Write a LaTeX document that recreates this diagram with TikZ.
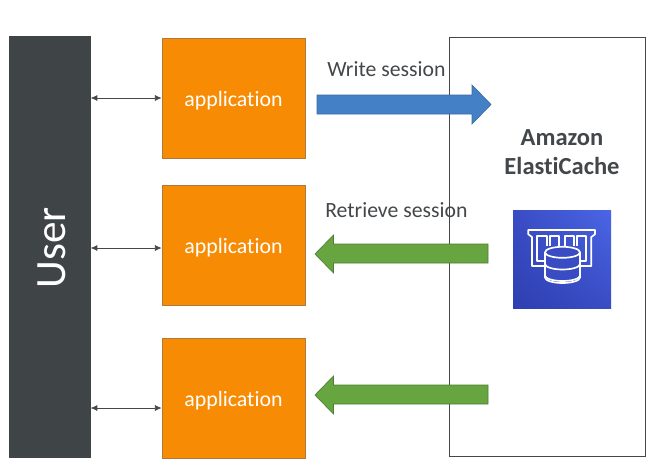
\documentclass[tikz,border=0pt]{standalone}
\usepackage{fontspec}
\setmainfont[Ligatures=NoCommon]{Carlito}
\usetikzlibrary{arrows.meta,shadings}
\definecolor{userdark}{HTML}{3F4447}
\definecolor{apporange}{HTML}{F78B04}
\definecolor{appedge}{HTML}{B0783A}
\definecolor{inkdark}{HTML}{444749}
\definecolor{blueflow}{HTML}{4480C6}
\definecolor{blueedge}{HTML}{3A6EA5}
\definecolor{greenflow}{HTML}{67A540}
\definecolor{greenedge}{HTML}{4F7F32}
\definecolor{iconlow}{HTML}{2E3FB0}
\definecolor{iconmid}{HTML}{3A4CC4}
\definecolor{iconhigh}{HTML}{4A66E6}
\newcommand{\apptext}{\smash{\raisebox{-6pt}{application}}}
\tikzset{
  x=0.75pt,y=-0.75pt,
  appbox/.style={draw=appedge,line width=0.6pt,fill=apporange,text=white,minimum width=107.2pt,minimum height=90pt,inner sep=0pt,font=\fontsize{16.4}{20}\selectfont},
  userbox/.style={draw=userdark,fill=userdark,text=white,minimum width=61pt,minimum height=315.75pt,inner sep=0pt},
  cachebox/.style={draw=inkdark,line width=0.6pt,fill=white,minimum width=147pt,minimum height=314.25pt,inner sep=0pt},
  dbl/.style={draw=inkdark,line width=0.5pt,{Latex[length=5pt,width=4.5pt]}-{Latex[length=5pt,width=4.5pt]}},
  flowlabel/.style={text=inkdark,inner sep=0pt,font=\fontsize{16.3}{20}\selectfont},
  blockblue/.style={draw=blueedge,line width=0.5pt,fill=blueflow},
  blockgreen/.style={draw=greenedge,line width=0.5pt,fill=greenflow},
  iconline/.style={draw=white,line width=1.25pt,line join=round},
}
\begin{document}
\begin{tikzpicture}
\useasboundingbox (0,0) rectangle (657,468);
\node[cachebox] (cache) at (547,246.5) {};
\node[userbox] (user) at (49.7,246.5) {\rotatebox{90}{\smash{\raisebox{-12.2pt}{\fontsize{32.4}{38}\selectfont User\hspace*{2pt}}}}};
\node[appbox] (app1) at (233.5,98) {\apptext};
\node[appbox] (app2) at (233.5,245) {\apptext};
\node[appbox] (app3) at (233.5,398) {\apptext};
\coordinate (u1) at (user.east |- 0,98);
\coordinate (a1) at (app1.west |- 0,98);
\coordinate (u2) at (user.east |- 0,248);
\coordinate (a2) at (app2.west |- 0,248);
\coordinate (u3) at (user.east |- 0,408);
\coordinate (a3) at (app3.west |- 0,408);
\draw[dbl] (u1) -- (a1);
\draw[dbl] (u2) -- (a2);
\draw[dbl] (u3) -- (a3);
\node[flowlabel,anchor=base west] (write) at (327,76) {Write session};
\node[flowlabel,anchor=base west] (retrieve) at (325,217) {Retrieve session};
\draw[blockblue] (317,95) -- (472,95) -- (472,85) -- (491,104.5) -- (472,124) -- (472,114) -- (317,114) -- cycle;
\draw[blockgreen] (488,244) -- (333.5,244) -- (333.5,235) -- (315,254) -- (333.5,273) -- (333.5,263) -- (488,263) -- cycle;
\draw[blockgreen] (488,385) -- (333.5,385) -- (333.5,376) -- (315,395) -- (333.5,414) -- (333.5,404) -- (488,404) -- cycle;
\node[text=inkdark,align=center,font=\fontsize{18.4}{21.75}\selectfont\bfseries] (title) at (562,152.5) {Amazon\\ElastiCache};
% icon
\shade[lower left=iconlow,upper right=iconhigh,lower right=iconmid,upper left=iconmid] (513,210) rectangle (611,308);
% memory module outline
\draw[iconline] (545,266) -- (532,266) -- (532,237) -- (528.3,234.3) -- (528.3,230) -- (595,230) -- (595,234.3) -- (591.3,237) -- (591.3,266) -- (578,266);
% chips
\draw[iconline] (545,261) -- (537.3,261) -- (537.3,236) -- (547,236) -- (547,246);
\draw[iconline] (550,246) -- (550,236) -- (559,236) -- (559,246);
\draw[iconline] (565,246) -- (565,236) -- (574,236) -- (574,246);
\draw[iconline] (577,246) -- (577,236) -- (586.2,236) -- (586.2,261) -- (578,261);
% database
\draw[iconline,fill=iconmid] (545,252.3) arc[start angle=180,end angle=360,x radius=17.5,y radius=5.5] -- (580,277.5) arc[start angle=0,end angle=180,x radius=17.5,y radius=5.5] -- cycle;
\draw[iconline] (545,252.3) arc[start angle=180,end angle=0,x radius=17.5,y radius=5.5];
\draw[iconline] (545,264) arc[start angle=180,end angle=0,x radius=17.5,y radius=5.5];
\draw[iconline] (545,275.5) arc[start angle=180,end angle=0,x radius=17.5,y radius=5.5];
\end{tikzpicture}
\end{document}
